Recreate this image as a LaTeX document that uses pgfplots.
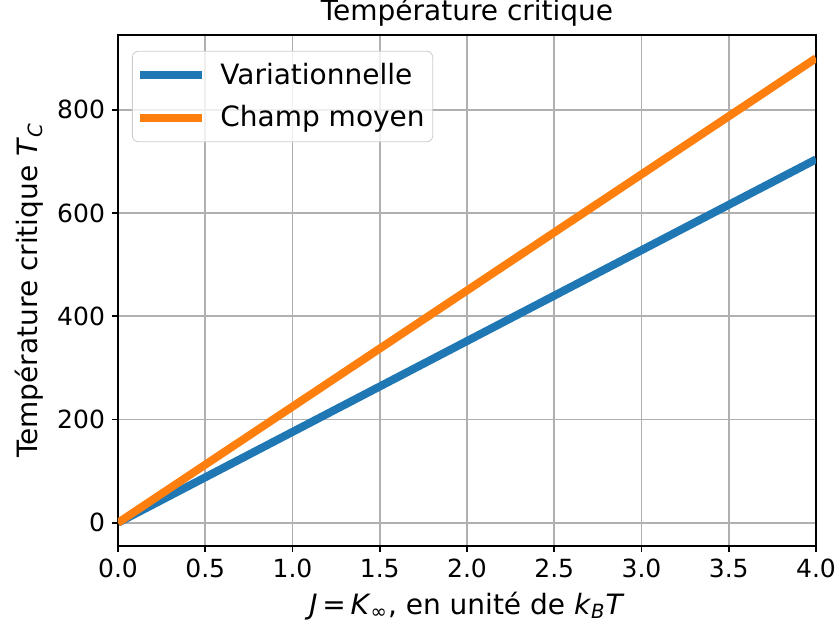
\documentclass[border=0pt]{standalone}
\usepackage{fontspec}
\setmainfont{DejaVu Sans}
\usepackage{pgfplots}
\pgfplotsset{compat=1.18}

\definecolor{mplblue}{HTML}{1F77B4}
\definecolor{mplorange}{HTML}{FF7F0E}
\definecolor{mplgrid}{HTML}{B0B0B0}
\definecolor{legframe}{HTML}{CCCCCC}

\begin{document}
\begin{tikzpicture}
\begin{axis}[
    scale only axis,
    width=349pt, height=255.5pt,
    xmin=0, xmax=4,
    ymin=-45, ymax=945,
    xtick={0,0.5,...,4},
    ytick={0,200,400,600,800},
    xticklabel style={/pgf/number format/.cd, fixed, fixed zerofill, precision=1},
    /pgf/number format/assume math mode=true,
    tick label style={font=\fontsize{12.5}{15}\selectfont},
    label style={font=\fontsize{14}{17}\selectfont},
    every axis title/.style={font=\fontsize{14}{17}\selectfont, at={(0.5,1)}, anchor=base, yshift=7pt},
    title={Température critique},
    xlabel={\textit{J}\,=\,\textit{K}\textsubscript{∞}, en unité de \textit{k}\textsubscript{\textit{B}}\textit{T}},
    ylabel={Température critique \textit{T}\textsubscript{\textit{C}}},
    tick pos=left,
    tick align=outside,
    major tick length=3pt,
    axis line style={line width=0.8pt},
    every tick/.style={black, line width=0.8pt},
    grid=major,
    major grid style={mplgrid, line width=0.9pt},
    legend cell align=left,
    legend image code/.code={\draw[#1] (0pt,0pt) -- (31pt,0pt);},
    legend style={
        at={(0.02,0.969)}, anchor=north west,
        draw=legframe, rounded corners=3pt,
        fill=white, fill opacity=0.8, text opacity=1,
        font=\fontsize{14}{17}\selectfont,
        row sep=5pt,
        inner xsep=2pt, inner ysep=4pt,
        /tikz/every odd column/.append style={column sep=5pt},
    },
]
\addplot[mplblue, line width=4pt] coordinates {(0,0) (4,704)};
\addlegendentry{Variationnelle}
\addplot[mplorange, line width=4pt] coordinates {(0,0) (4,900)};
\addlegendentry{Champ moyen}
\end{axis}
\pgfresetboundingbox
\path[use as bounding box] ([shift={(-59pt,-43pt)}]current axis.south west) rectangle ([shift={(12pt,17.5pt)}]current axis.north east);
\end{tikzpicture}
\end{document}
